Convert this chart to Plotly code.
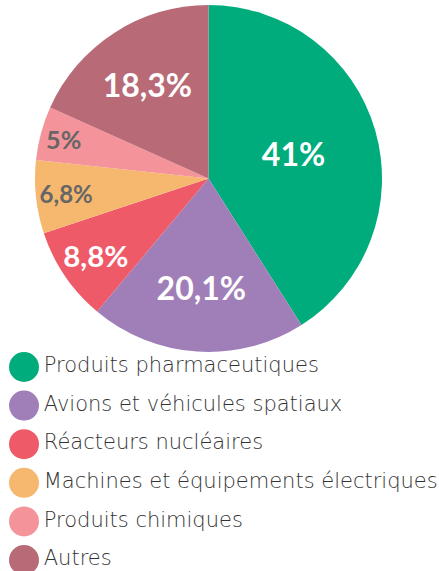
import plotly.graph_objects as go

categories = [
    "Produits pharmaceutiques",
    "Avions et véhicules spatiaux",
    "Réacteurs nucléaires",
    "Machines et équipements électriques",
    "Produits chimiques",
    "Autres",
]
values = [41, 20.1, 8.8, 6.8, 5, 18.3]
colors = ["#00AC7C", "#A07FB8", "#EF5A68", "#F5B86E", "#F4949A", "#B86B77"]
label_colors = ["white", "white", "white", "#666666", "#666666", "white"]
label_sizes = [32, 32, 33, 29, 26, 32]

labels = [f"{v:g}".replace(".", ",") + "%" for v in values]

W, H = 439, 571


def px_x(p):
    return p / W


def px_y(p):
    return 1 - p / H


fig = go.Figure()
fig.add_trace(go.Pie(
    labels=categories,
    values=values,
    text=labels,
    texttemplate="%{text}",
    textposition="inside",
    insidetextorientation="horizontal",
    textfont=dict(family="Lato", size=label_sizes, color=label_colors, weight="bold"),
    marker=dict(colors=colors, line=dict(width=0)),
    sort=False,
    direction="clockwise",
    rotation=0,
    showlegend=False,
    hoverinfo="skip",
    domain=dict(x=[px_x(35), px_x(382)], y=[px_y(352), px_y(5)]),
))

# custom legend with large circular markers
row0, step = 367.0, 38.6
fig.add_trace(go.Scatter(
    x=[24] * len(categories),
    y=list(range(len(categories))),
    mode="markers+text",
    marker=dict(size=30, color=colors, line=dict(width=0)),
    text=categories,
    textposition="middle right",
    textfont=dict(family="DejaVu Sans", size=21, color="#333333", weight=200),
    showlegend=False,
    hoverinfo="skip",
    cliponaxis=False,
))

fig.update_layout(
    width=W,
    height=H,
    margin=dict(l=0, r=0, t=0, b=0),
    paper_bgcolor="white",
    plot_bgcolor="rgba(0,0,0,0)",
    xaxis=dict(visible=False, range=[0, W], domain=[0, 1], fixedrange=True),
    yaxis=dict(visible=False, range=[(H - row0) / step, -row0 / step], domain=[0, 1], fixedrange=True),
)

fig.write_html(
    "out.html",
    config={"displayModeBar": False},
    post_script="document.body.style.margin='0';document.body.style.overflow='hidden';",
)
